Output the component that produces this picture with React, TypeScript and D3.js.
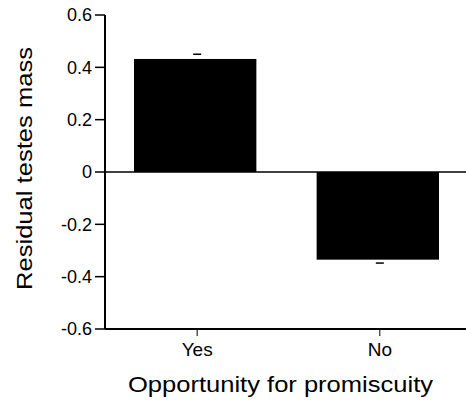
import React from "react";
import * as d3 from "d3";

const categories = ["Yes", "No"];
const means = [0.432, -0.335];
const errors = [0.018, 0.013];
const yTicks = [0.6, 0.4, 0.2, 0, -0.2, -0.4, -0.6];
const yTickLabels = ["0.6", "0.4", "0.2", "0", "-0.2", "-0.4", "-0.6"];

const W = 466;
const H = 401;
const axisX = 105;
const top = 15;
const bottom = 329;

export default function App() {
  const y = d3.scaleLinear().domain([-0.6, 0.6]).range([bottom, top]);
  const x = d3.scaleBand<string>().domain(categories).range([134, 439]).paddingInner(0.33).paddingOuter(0);
  const font = "'Liberation Sans', Arial, Helvetica, sans-serif";
  return (
    <svg width={W} height={H} style={{ position: "absolute", left: 0, top: 0, background: "#fff" }} fontFamily={font}>
      {categories.map((c, i) => {
        const v = means[i];
        const y0 = y(0);
        const y1 = y(v);
        return (
          <rect key={c} x={x(c)} y={Math.min(y0, y1)} width={x.bandwidth()} height={Math.abs(y1 - y0)} fill="#000" />
        );
      })}
      {categories.map((c, i) => {
        const v = means[i];
        const e = v >= 0 ? v + errors[i] : v - errors[i];
        const cx = (x(c) as number) + x.bandwidth() / 2 + 2;
        return <line key={c + "e"} x1={cx - 4} x2={cx + 4} y1={y(e)} y2={y(e)} stroke="#000" strokeWidth={1.5} />;
      })}
      <line x1={axisX} x2={W} y1={y(0)} y2={y(0)} stroke="#000" strokeWidth={1.5} />
      <line x1={axisX} x2={axisX} y1={top} y2={bottom} stroke="#000" strokeWidth={2} />
      {yTicks.map((t, i) => (
        <g key={t}>
          <line x1={axisX - 10} x2={axisX} y1={y(t)} y2={y(t)} stroke="#000" strokeWidth={1.5} />
          <text x={axisX - 13} y={y(t)} dy="0.36em" textAnchor="end" fontSize={18} fill="#000">
            {yTickLabels[i]}
          </text>
        </g>
      ))}
      <line x1={axisX} x2={W} y1={bottom} y2={bottom} stroke="#000" strokeWidth={2} />
      {categories.map((c) => {
        const cx = (x(c) as number) + x.bandwidth() / 2 + 2;
        return (
          <g key={c + "t"}>
            <line x1={cx} x2={cx} y1={bottom} y2={bottom + 7} stroke="#000" strokeWidth={1} />
            <text x={cx} y={356} textAnchor="middle" fontSize={19} fill="#000">
              {c}
            </text>
          </g>
        );
      })}
      <text x={280.5} y={392} textAnchor="middle" fontSize={22} fill="#000" textLength={305} lengthAdjust="spacingAndGlyphs">
        Opportunity for promiscuity
      </text>
      <text
        transform={`translate(32,168.5) rotate(-90)`}
        textAnchor="middle"
        fontSize={22}
        fill="#000"
        textLength={243}
        lengthAdjust="spacingAndGlyphs"
      >
        Residual testes mass
      </text>
    </svg>
  );
}
